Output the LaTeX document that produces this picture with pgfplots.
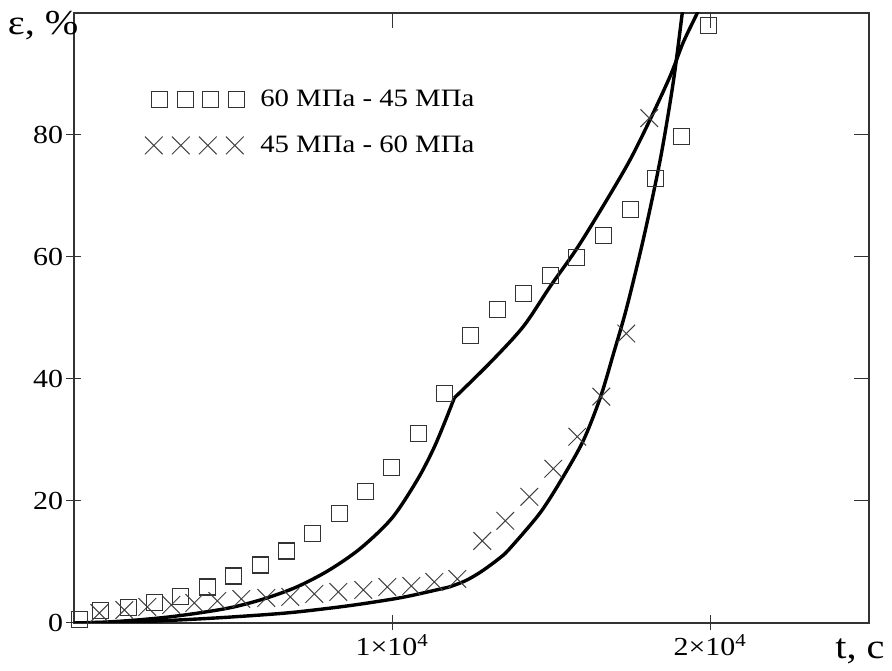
\documentclass[border=0pt]{standalone}
\usepackage{fontspec}
\setmainfont{Liberation Serif}[FakeStretch=1.15]
\usepackage{pgfplots}
\pgfplotsset{compat=1.18}

\begin{document}
\begin{tikzpicture}
\pgfplotsset{
  common/.style={
    scale only axis, width=795pt, height=610pt,
    xmin=0, xmax=25000, ymin=0, ymax=100,
    xtick={10000,20000}, ytick={0,20,40,60,80},
    scaled x ticks=false,
    major tick length=15pt,
    tick style={black!80, line width=1pt},
    axis line style={black!80, line width=1.2pt},
  }
}
\begin{axis}[common,
  tick align=inside, xtick pos=right, ytick pos=right,
  xticklabels={}, yticklabels={}]
\end{axis}
\begin{axis}[common,
  tick align=center, xtick pos=left, ytick pos=left,
  xticklabels={1×10\textsuperscript{4},2×10\textsuperscript{4}},
  ticklabel style={font=\fontsize{26}{30}\selectfont},
  /pgf/number format/assume math mode=true,
  xlabel={t, с}, ylabel={ε, \%},
  every axis x label/.style={at={(rel axis cs:1,0)}, anchor=north, xshift=-9pt, yshift=-12pt, font=\fontsize{35}{40}\selectfont},
  every axis y label/.style={at={(rel axis cs:0,1)}, anchor=north east, xshift=8pt, yshift=5pt, font=\fontsize{35}{40}\selectfont},
  legend style={draw=none, fill=none, at={(rel axis cs:0.089,0.877)}, anchor=north west,
    font=\fontsize{25}{30}\selectfont, row sep=24pt, column sep=14pt, inner sep=0pt},
  legend cell align=left,
]
\addplot[only marks, mark=square, mark size=8pt, black!80, mark options={line width=1.1pt},
  legend image code/.code={\draw[only marks, mark=square, mark size=8pt, black!80, line width=1.1pt] plot coordinates {(8pt,0pt) (33.5pt,0pt) (59pt,0pt) (84.5pt,0pt)};}]
  table {
x y
167 0.5
827 2.0
1708 2.6
2525 3.4
3343 4.4
4192 5.9
5009 7.7
5858 9.5
6676 11.8
7494 14.6
8343 17.9
9160 21.5
9978 25.5
10827 31.0
11645 37.6
12462 47.1
13311 51.4
14129 54.0
14978 57.0
15796 59.9
16645 63.5
17494 67.8
18280 72.9
19098 79.8
19947 98.0
};
\addlegendentry{60 МПа - 45 МПа}
\addplot[only marks, mark=x, mark size=12.5pt, black!75, mark options={line width=1pt},
  legend image code/.code={\draw[only marks, mark=x, mark size=12.5pt, black!75, line width=1pt] plot coordinates {(2pt,0pt) (29pt,0pt) (56pt,0pt) (83pt,0pt)};}]
  table {
x y
796 1.64
1582 2.13
2305 2.63
3060 2.96
3783 3.28
4506 3.61
5261 3.94
6047 4.11
6802 4.27
7557 4.76
8311 5.09
9097 5.42
9852 5.91
10607 6.08
11330 6.73
12053 7.22
12840 13.46
13563 16.75
14318 20.69
15072 25.29
15827 30.54
16582 37.11
17368 47.45
18091 82.76
};
\addlegendentry{45 МПа - 60 МПа}
% curve A (60 -> 45)
\addplot[forget plot, black, line width=3.4pt, smooth] table {
x y
0 0
1000 0.15
2000 0.5
3000 1.0
4000 1.7
5000 2.6
6000 4.0
7000 5.9
8000 8.6
9000 12.2
10000 17.2
10800 23.5
11300 28.5
11650 32.8
11960 36.9
};
\addplot[forget plot, black, line width=3.4pt, smooth] table {
x y
11960 36.9
13091 42.7
14129 48.6
14978 55.2
15827 61.5
16771 69.5
17494 76.0
18123 82.6
18751 89.7
19160 95.2
19600 100
19700 101.5
};
% curve B (45 -> 60)
\addplot[forget plot, black, line width=3.4pt, smooth] table {
x y
0 0
2000 0.2
3500 0.55
5000 1.0
6800 1.7
8600 2.8
10000 3.9
10700 4.6
11800 5.9
};
\addplot[forget plot, black, line width=3.4pt, smooth] table {
x y
11800 5.9
12300 6.9
12800 8.4
13400 10.7
13720 12.3
14664 18.1
15385 24.0
16025 30.0
16560 37.1
16973 44.3
17370 51.5
17903 62.9
18437 76.0
18846 88.7
19128 100
19180 102
};
\end{axis}
\pgfresetboundingbox
\path (current axis.south west) ++(-74pt,-48pt) rectangle ++(892pt,671pt);
\end{tikzpicture}
\end{document}
